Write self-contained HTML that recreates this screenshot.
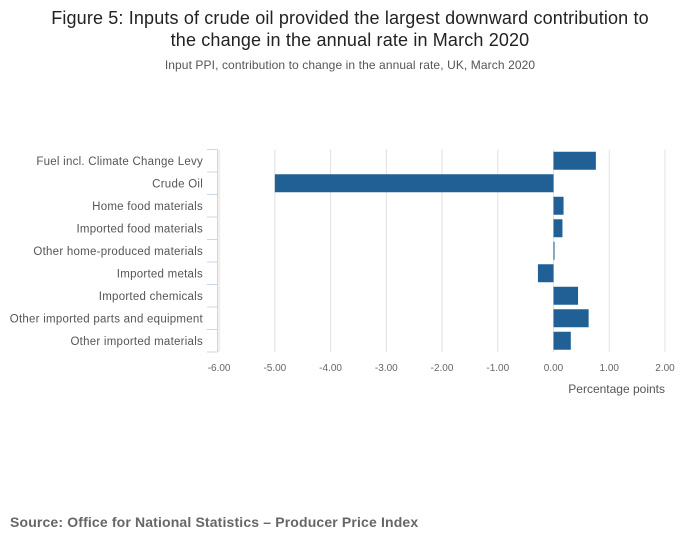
<!DOCTYPE html>
<html><head><meta charset="utf-8"><style>
body{margin:0;background:#fff;font-family:"Liberation Sans",sans-serif;}
#wrap{position:relative;width:700px;height:549px;overflow:hidden;}
</style></head><body>
<div id="wrap">
<svg id="chart" width="700" height="549">
<text x="350" y="24" text-anchor="middle" font-size="18" fill="#222" letter-spacing="0.15">Figure 5: Inputs of crude oil provided the largest downward contribution to</text>
<text x="350" y="46" text-anchor="middle" font-size="18" fill="#222" letter-spacing="0.15">the change in the annual rate in March 2020</text>
<text x="350" y="69" text-anchor="middle" font-size="12" fill="#555" letter-spacing="0.1">Input PPI, contribution to change in the annual rate, UK, March 2020</text>
<g id="grid"></g><g id="bars"></g><g id="yaxis"></g><g id="xticks"></g>
<text x="665" y="393" text-anchor="end" font-size="12" fill="#555">Percentage points</text>
<text x="10" y="527" font-size="14" font-weight="bold" fill="#666" letter-spacing="0.15">Source: Office for National Statistics – Producer Price Index</text>
</svg>
</div>
<script>
const categories=["Fuel incl. Climate Change Levy","Crude Oil","Home food materials","Imported food materials","Other home-produced materials","Imported metals","Imported chemicals","Other imported parts and equipment","Other imported materials"];
const values=[0.76,-5.0,0.18,0.16,0.01,-0.28,0.44,0.63,0.31];
const ticks=[-6,-5,-4,-3,-2,-1,0,1,2];
const tickLabels=["-6.00","-5.00","-4.00","-3.00","-2.00","-1.00","0.00","1.00","2.00"];
const NS="http://www.w3.org/2000/svg";
const x0=219.1,x1=665,plotTop=149.5,plotBot=352;
const xs=v=>x0+(v+6)/8*(x1-x0);
const rh=(plotBot-plotTop)/categories.length;
function mk(t,a,p){const e=document.createElementNS(NS,t);for(const k in a)e.setAttribute(k,a[k]);document.getElementById(p).appendChild(e);return e;}
ticks.forEach((t,i)=>{
 const g=mk("line",{x1:xs(t),x2:xs(t),y1:plotTop,y2:plotBot,stroke:"#e0e0e0","stroke-width":1},"grid");
 
 
 const l=mk("text",{x:xs(t),y:371,"text-anchor":"middle","font-size":10,fill:"#666"},"xticks");
 l.textContent=tickLabels[i];
 
 
});
const ax=mk("line",{x1:217.5,x2:217.5,y1:plotTop,y2:plotBot,stroke:"#ccd6eb","stroke-width":1},"yaxis");


for(let i=0;i<=categories.length;i++){
 const tk=mk("line",{x1:207,x2:217.5,y1:plotTop+i*rh,y2:plotTop+i*rh,stroke:"#ccd6eb","stroke-width":1},"yaxis");
 
 
}
categories.forEach((c,i)=>{
 const cy=plotTop+(i+0.5)*rh;
 const t=mk("text",{x:203,y:cy+4,"text-anchor":"end","font-size":11.5,fill:"#555","letter-spacing":0.25},"yaxis");
 t.textContent=c;
 
 
 const v=values[i];
 const a=Math.min(xs(0),xs(v)),w=Math.max(Math.abs(xs(v)-xs(0)),1);
 const b=mk("rect",{x:a,y:cy-9,width:w,height:18,fill:"#206095"},"bars");
 
 
});
</script>
</body></html>
